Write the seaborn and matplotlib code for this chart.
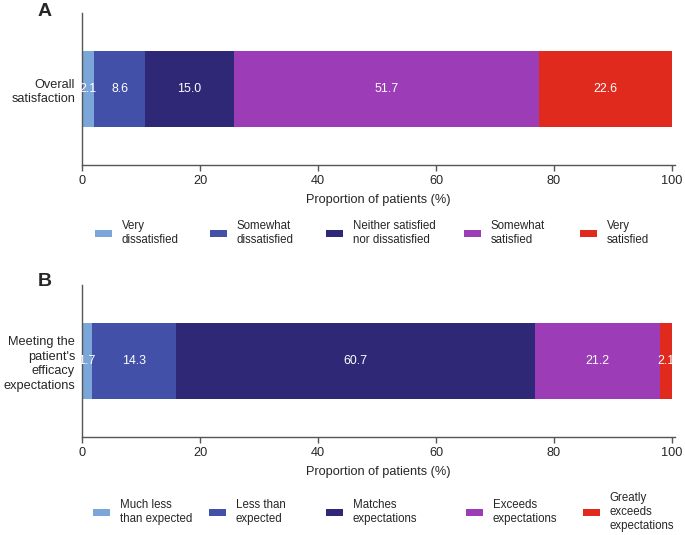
import numpy as np
import pandas as pd
import seaborn as sns
import matplotlib.pyplot as plt
from matplotlib.patches import Patch

# Panel A: overall satisfaction
sat_labels = ['Very\ndissatisfied', 'Somewhat\ndissatisfied', 'Neither satisfied\nnor dissatisfied',
              'Somewhat\nsatisfied', 'Very\nsatisfied']
sat_values = [2.1, 8.6, 15.0, 51.7, 22.6]
sat_category = 'Overall\nsatisfaction'

# Panel B: efficacy expectations
exp_labels = ['Much less\nthan expected', 'Less than\nexpected', 'Matches\nexpectations',
              'Exceeds\nexpectations', 'Greatly\nexceeds\nexpectations']
exp_values = [1.7, 14.3, 60.7, 21.2, 2.1]
exp_category = "Meeting the\npatient's\nefficacy\nexpectations"

xticks = [0, 20, 40, 60, 80, 100]
colors = ['#7ba6da', '#4350a8', '#2e2876', '#9c3cb6', '#e02a1d']

sns.set_style('white')
plt.rcParams['font.family'] = ['Liberation Sans', 'DejaVu Sans']
FS = 9.2

W, H = 685, 535
# left edge of each legend entry (pixels)
legend_x = [[95, 210, 326, 464, 580], [93, 209, 326, 466, 583]]


def stacked_panel(ax, category, values, labels, legend_y, xs, letter, letter_y):
    df = pd.DataFrame({'seg': labels, 'value': values})
    df['cum'] = df['value'].cumsum()
    df['cat'] = category
    # draw cumulative bars from the longest down so they stack visually
    for i in reversed(range(len(df))):
        sns.barplot(data=df.iloc[[i]], x='cum', y='cat', color=colors[i], orient='h',
                    width=0.5, saturation=1, linewidth=0, ax=ax, errorbar=None)
    for _, row in df.iterrows():
        ax.text(row['cum'] - row['value'] / 2, 0, f"{row['value']:.1f}", color='white',
                ha='center', va='center', fontsize=8.9)
    ax.set_xlim(0, 100.5)
    ax.set_ylim(0.5, -0.5)
    ax.set_xticks(xticks)
    ax.set_xlabel('Proportion of patients (%)', fontsize=FS, labelpad=5)
    ax.set_ylabel('')
    ax.tick_params(axis='x', direction='out', length=4, width=1, labelsize=FS,
                   color='#555555', bottom=True, pad=3)
    ax.tick_params(axis='y', length=0, labelsize=FS, pad=5)
    for t in ax.get_yticklabels():
        t.set_linespacing(1.33)
    sns.despine(ax=ax)
    for s in ['left', 'bottom']:
        ax.spines[s].set_color('#555555')
        ax.spines[s].set_linewidth(1)
    for c, lab, x in zip(colors, labels, xs):
        fig.legend([Patch(facecolor=c, edgecolor='none')], [lab], loc='center left',
                   bbox_to_anchor=(x / W, legend_y), frameon=False, fontsize=8.3,
                   handlelength=1.5, handleheight=0.5, handletextpad=0.8,
                   borderpad=0, borderaxespad=0, labelspacing=0)
    fig.text(38 / W, letter_y, letter, fontsize=14, fontweight='bold', ha='left', va='center')


fig = plt.figure(figsize=(W / 100, H / 100), dpi=100)
ax_a = fig.add_axes([0.1197, 0.6916, 0.8657, 0.284])
ax_b = fig.add_axes([0.1197, 0.1832, 0.8657, 0.284])

stacked_panel(ax_a, sat_category, sat_values, sat_labels, 1 - 233 / H, legend_x[0], 'A', 1 - 12 / H)
stacked_panel(ax_b, exp_category, exp_values, exp_labels, 1 - 512 / H, legend_x[1], 'B', 1 - 281 / H)

fig.savefig('out.png', dpi=100)
